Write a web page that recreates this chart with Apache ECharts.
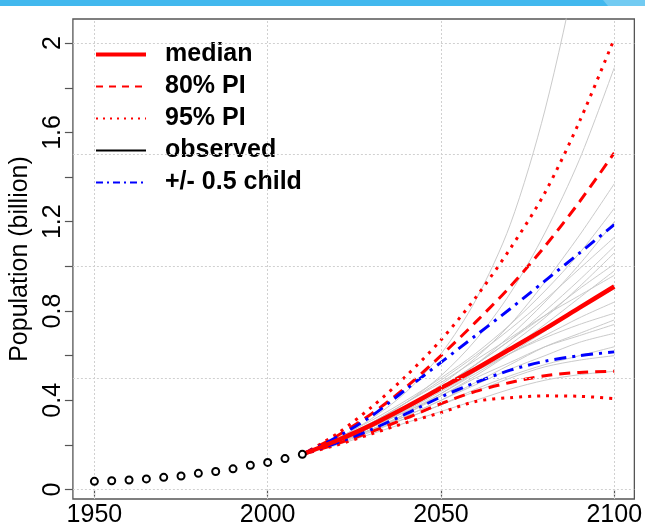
<!DOCTYPE html>
<html>
<head>
<meta charset="utf-8">
<script src="https://cdn.jsdelivr.net/npm/echarts@6/dist/echarts.min.js"></script>
<style>
html,body{margin:0;padding:0;background:#fff;}
#chart{width:645px;height:529px;}
</style>
</head>
<body>
<div id="chart"></div>
<script>
// ---- data ----
var obsYears = [1950,1955,1960,1965,1970,1975,1980,1985,1990,1995,2000,2005,2010];
var obsPop   = [0.037,0.040,0.043,0.048,0.055,0.061,0.073,0.081,0.093,0.109,0.122,0.139,0.158];
var projYears = [2010,2020,2030,2040,2050,2060,2070,2080,2090,2100];
var medianPop   = [0.158,0.220,0.290,0.370,0.455,0.540,0.630,0.720,0.815,0.910];
var pi80Upper   = [0.158,0.240,0.340,0.460,0.600,0.750,0.910,1.090,1.290,1.508];
var pi80Lower   = [0.158,0.205,0.260,0.320,0.385,0.440,0.480,0.510,0.525,0.530];
var pi95Upper   = [0.158,0.250,0.370,0.510,0.670,0.860,1.080,1.330,1.650,2.020];
var pi95Lower   = [0.158,0.200,0.250,0.300,0.345,0.395,0.412,0.420,0.418,0.408];
var childUpper  = [0.158,0.235,0.330,0.450,0.570,0.690,0.810,0.935,1.060,1.187];
var childLower  = [0.158,0.210,0.270,0.340,0.415,0.480,0.535,0.575,0.600,0.617];
var trajectories = [
  [0.158,0.228,0.318,0.438,0.608,0.848,1.188,1.700,2.400,3.300],
  [0.158,0.225,0.300,0.390,0.510,0.670,0.880,1.150,1.480,1.890],
  [0.158,0.220,0.290,0.370,0.470,0.590,0.740,0.930,1.140,1.370],
  [0.158,0.230,0.310,0.400,0.500,0.610,0.740,0.890,1.060,1.260],
  [0.158,0.215,0.280,0.360,0.450,0.560,0.690,0.840,1.010,1.200],
  [0.158,0.225,0.300,0.390,0.490,0.600,0.720,0.850,0.990,1.130],
  [0.158,0.220,0.290,0.370,0.460,0.560,0.670,0.800,0.940,1.090],
  [0.158,0.210,0.270,0.340,0.430,0.530,0.650,0.770,0.910,1.060],
  [0.158,0.220,0.290,0.370,0.460,0.560,0.670,0.780,0.900,1.010],
  [0.158,0.215,0.280,0.355,0.440,0.530,0.630,0.740,0.860,0.980],
  [0.158,0.220,0.300,0.390,0.480,0.580,0.680,0.780,0.870,0.960],
  [0.158,0.210,0.270,0.340,0.420,0.510,0.610,0.710,0.810,0.900],
  [0.158,0.215,0.280,0.350,0.430,0.520,0.610,0.690,0.770,0.840],
  [0.158,0.220,0.290,0.370,0.450,0.530,0.610,0.680,0.740,0.790],
  [0.158,0.210,0.270,0.330,0.400,0.480,0.560,0.640,0.700,0.760],
  [0.158,0.215,0.280,0.350,0.420,0.500,0.570,0.640,0.690,0.740],
  [0.158,0.210,0.270,0.330,0.400,0.470,0.540,0.600,0.660,0.700],
  [0.158,0.205,0.260,0.320,0.380,0.450,0.510,0.560,0.600,0.640],
  [0.158,0.210,0.265,0.320,0.380,0.440,0.500,0.550,0.580,0.600],
  [0.158,0.200,0.250,0.300,0.350,0.400,0.450,0.490,0.515,0.530]
];
var xTickValues = [1950,2000,2050,2100];
var yTickValues = [0,0.2,0.4,0.6,0.8,1,1.2,1.4,1.6,1.8,2];
var yLabelValues = [0,0.4,0.8,1.2,1.6,2];
var hGridValues = [0,0.5,1,1.5,2];
var vGridValues = [1950,2000,2050,2100];
var legendNames = ['median','80% PI','95% PI','observed','+/- 0.5 child'];

// ---- build ----
function pairs(xs, ys){ return xs.map(function(x,i){ return [x, ys[i]]; }); }
var FONT = 'Liberation Sans';
var series = [];
series.push({
  type:'line', name:'_grid', data:[], silent:true,
  markLine:{
    silent:true, symbol:'none', label:{show:false}, animation:false,
    lineStyle:{color:'#d0d0d0', type:[2,2], width:1},
    data: hGridValues.map(function(v){return {yAxis:v};}).concat(vGridValues.map(function(v){return {xAxis:v};}))
  }
});
trajectories.forEach(function(t){
  series.push({type:'line', name:'_traj', data:pairs(projYears,t), smooth:0.3, symbol:'none', silent:true,
    lineStyle:{color:'#c4c4c4', width:0.9}, z:2});
});
function q(name, arr, color, type, width){
  return {type:'line', name:name, data:pairs(projYears,arr), smooth:0.3, symbol:'none', silent:true,
    lineStyle:{color:color, type:type, width:width, cap:'butt'}, itemStyle:{color:color}, z:3};
}
series.push(q('95% PI', pi95Upper, '#ff0000', [3,6], 3));
series.push(q('95% PI', pi95Lower, '#ff0000', [3,6], 3));
series.push(q('80% PI', pi80Upper, '#ff0000', [11,7], 3));
series.push(q('80% PI', pi80Lower, '#ff0000', [11,7], 3));
series.push(q('+/- 0.5 child', childUpper, '#0000ff', [12,6,3,6], 3));
series.push(q('+/- 0.5 child', childLower, '#0000ff', [12,6,3,6], 3));
series.push(q('median', medianPop, '#ff0000', 'solid', 4.5));
series.push({type:'line', name:'observed', data:pairs(obsYears,obsPop), symbol:'emptyCircle', symbolSize:7,
  showAllSymbol:true, silent:true,
  lineStyle:{width:0, opacity:0, color:'#000'}, itemStyle:{color:'#000', borderColor:'#000', borderWidth:2}, z:5});

var chart = echarts.init(document.getElementById('chart'), null, {renderer:'canvas'});
chart.setOption({
  animation:false,
  backgroundColor:'#ffffff',
  textStyle:{fontFamily:FONT},
  graphic:[
    {type:'rect', shape:{x:0,y:0,width:645,height:6}, style:{fill:'#42b8ee'}, silent:true},
    {type:'polygon', shape:{points:[[603,0],[645,0],[645,6],[608,6]]}, style:{fill:'#72cbf2'}, silent:true}
  ],
  grid:{left:71, right:9, top:19, bottom:30, show:true, borderColor:'#555', borderWidth:1.3, backgroundColor:'transparent'},
  legend:{
    orient:'vertical', left:94, top:42, padding:0, itemWidth:50, itemHeight:20, itemGap:7,
    selectedMode:false,
    itemStyle:{opacity:0},
    textStyle:{fontSize:25, fontWeight:'bold', color:'#000', fontFamily:FONT, padding:[0,0,0,14]},
    data:[
      {name:'median', lineStyle:{width:4, type:'solid', color:'#ff0000'}},
      {name:'80% PI', lineStyle:{width:2, type:[7,6], color:'#ff0000'}},
      {name:'95% PI', lineStyle:{width:2, type:[2,5], color:'#ff0000'}},
      {name:'observed', lineStyle:{width:2, type:'solid', color:'#000', opacity:1}},
      {name:'+/- 0.5 child', lineStyle:{width:2, type:[7,4,2,4], color:'#0000ff'}}
    ]
  },
  xAxis:{
    type:'value', min:1943.8, max:2105.8,
    axisLine:{show:false},
    splitLine:{show:false},
    axisTick:{show:true, length:7, customValues:xTickValues, lineStyle:{color:'#555', width:1.2}},
    axisLabel:{customValues:xTickValues, fontSize:25, color:'#000', fontFamily:FONT, margin:4,
      formatter:function(v){ return String(v); }}
  },
  yAxis:{
    type:'value', min:-0.042, max:2.108,
    name:'Population (billion)', nameLocation:'middle', nameGap:32,
    nameTextStyle:{fontSize:25, color:'#000', fontFamily:FONT},
    axisLine:{show:false},
    splitLine:{show:false},
    axisTick:{show:true, length:8, customValues:yTickValues, lineStyle:{color:'#555', width:1.2}},
    axisLabel:{customValues:yLabelValues, rotate:90, fontSize:25, color:'#000', fontFamily:FONT, margin:7,
      formatter:function(v){ return String(Math.round(v*10)/10); }}
  },
  series:series
});
</script>
</body>
</html>
